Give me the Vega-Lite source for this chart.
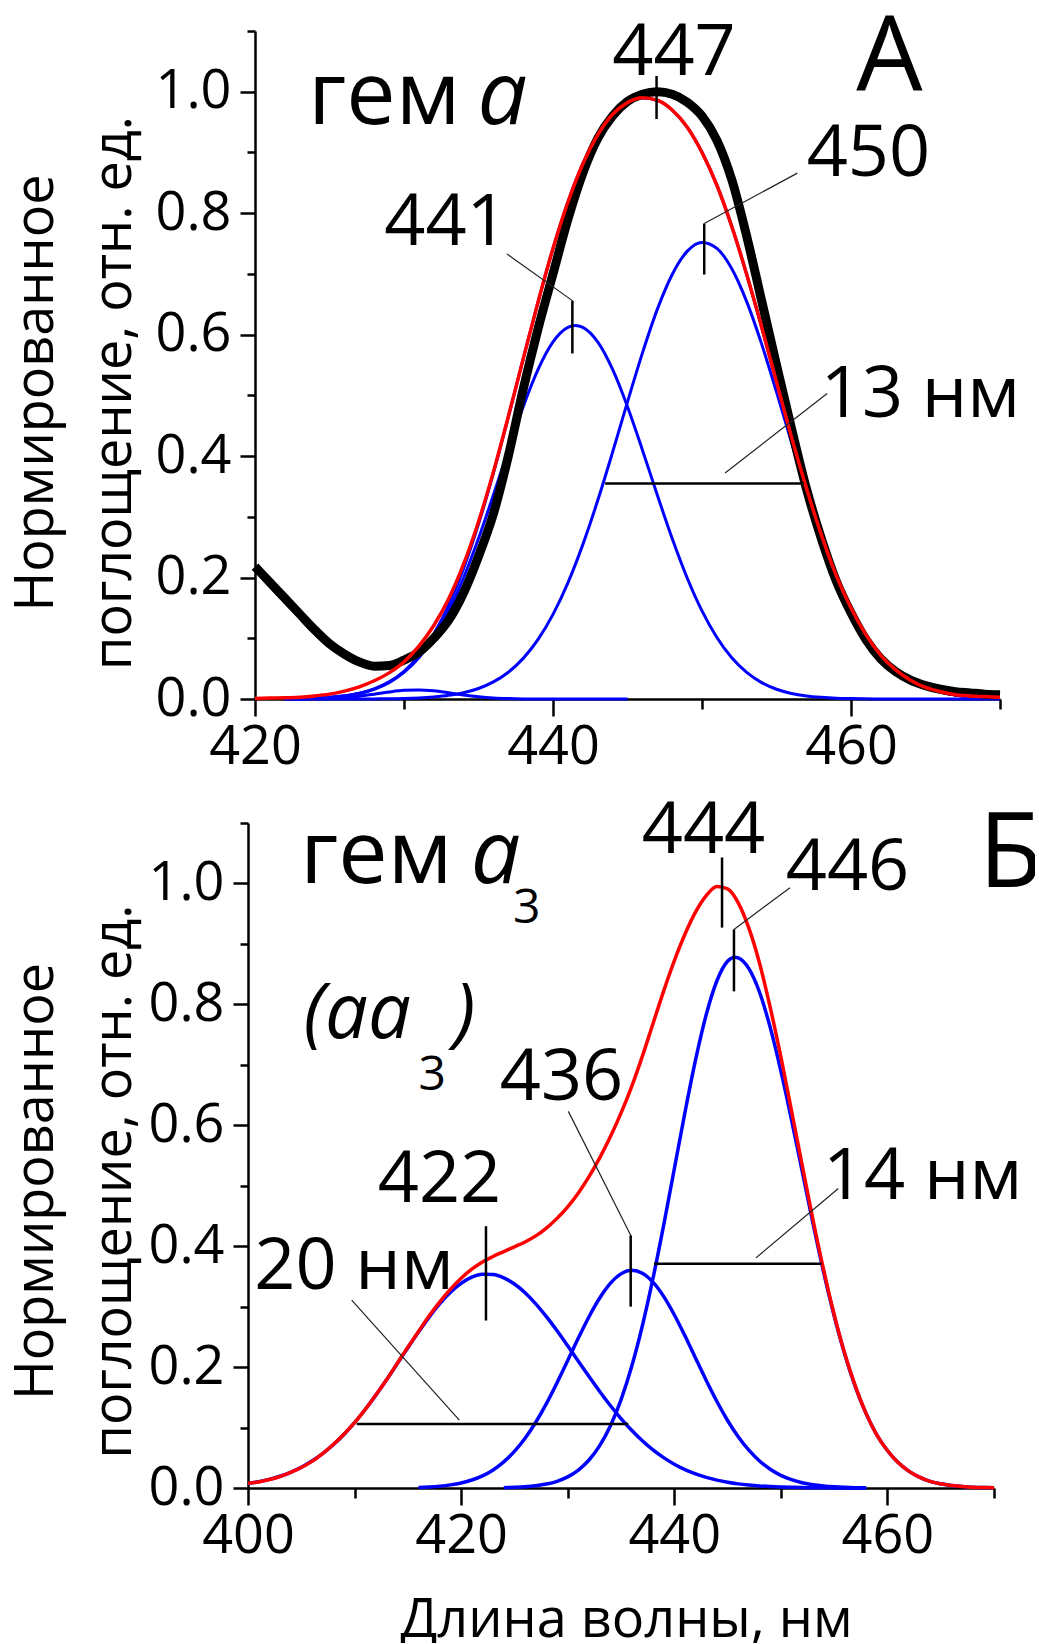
{
  "$schema": "https://vega.github.io/schema/vega-lite/v6.json",
  "padding": {"left": 9, "top": 6, "right": -8, "bottom": -4},
  "spacing": 20,
  "config": {
    "font": "Open Sans",
    "view": {"stroke": null},
    "axis": {
      "grid": false,
      "domainColor": "black",
      "domainWidth": 2.5,
      "tickColor": "black",
      "tickWidth": 2.5,
      "labelFont": "Open Sans",
      "labelFontSize": 54,
      "labelColor": "black",
      "titleFont": "Open Sans",
      "titleFontSize": 54,
      "titleFontWeight": "normal",
      "titleColor": "black"
    }
  },
  "datasets": {
    "A_blue": [
      {"s":"c1","x":422,"y":0.0003},{"s":"c1","x":423,"y":0.0007},{"s":"c1","x":424,"y":0.0013},{"s":"c1","x":425,"y":0.0027},{"s":"c1","x":426,"y":0.005},{"s":"c1","x":427,"y":0.0092},{"s":"c1","x":428,"y":0.0161},{"s":"c1","x":429,"y":0.027},{"s":"c1","x":430,"y":0.0437},{"s":"c1","x":431,"y":0.0678},{"s":"c1","x":432,"y":0.1012},{"s":"c1","x":433,"y":0.145},{"s":"c1","x":434,"y":0.1997},{"s":"c1","x":435,"y":0.2642},{"s":"c1","x":436,"y":0.3359},{"s":"c1","x":437,"y":0.4102},{"s":"c1","x":438,"y":0.4814},{"s":"c1","x":439,"y":0.5427},{"s":"c1","x":440,"y":0.5879},{"s":"c1","x":441,"y":0.6119},{"s":"c1","x":441.5,"y":0.615},{"s":"c1","x":442,"y":0.6119},{"s":"c1","x":443,"y":0.5879},{"s":"c1","x":444,"y":0.5427},{"s":"c1","x":445,"y":0.4814},{"s":"c1","x":446,"y":0.4102},{"s":"c1","x":447,"y":0.3359},{"s":"c1","x":448,"y":0.2642},{"s":"c1","x":449,"y":0.1997},{"s":"c1","x":450,"y":0.145},{"s":"c1","x":451,"y":0.1012},{"s":"c1","x":452,"y":0.0678},{"s":"c1","x":453,"y":0.0437},{"s":"c1","x":454,"y":0.027},{"s":"c1","x":455,"y":0.0161},{"s":"c1","x":456,"y":0.0092},{"s":"c1","x":457,"y":0.005},{"s":"c1","x":458,"y":0.0027},{"s":"c1","x":459,"y":0.0013},{"s":"c1","x":460,"y":0.0007},{"s":"c1","x":461,"y":0.0003},{"s":"c1","x":462,"y":0.0001},{"s":"c1","x":466,"y":0},{"s":"c1","x":470,"y":0},
      {"s":"c2","x":422,"y":0},{"s":"c2","x":426,"y":0},{"s":"c2","x":428,"y":0.0002},{"s":"c2","x":429,"y":0.0005},{"s":"c2","x":430,"y":0.0009},{"s":"c2","x":431,"y":0.0018},{"s":"c2","x":432,"y":0.0034},{"s":"c2","x":433,"y":0.006},{"s":"c2","x":434,"y":0.0104},{"s":"c2","x":435,"y":0.0173},{"s":"c2","x":436,"y":0.0281},{"s":"c2","x":437,"y":0.0441},{"s":"c2","x":438,"y":0.0669},{"s":"c2","x":439,"y":0.0981},{"s":"c2","x":440,"y":0.1393},{"s":"c2","x":441,"y":0.1913},{"s":"c2","x":442,"y":0.2542},{"s":"c2","x":443,"y":0.3268},{"s":"c2","x":444,"y":0.4065},{"s":"c2","x":445,"y":0.4893},{"s":"c2","x":446,"y":0.5696},{"s":"c2","x":447,"y":0.6416},{"s":"c2","x":448,"y":0.6991},{"s":"c2","x":449,"y":0.7371},{"s":"c2","x":450,"y":0.7518},{"s":"c2","x":451,"y":0.742},{"s":"c2","x":452,"y":0.7085},{"s":"c2","x":453,"y":0.6544},{"s":"c2","x":454,"y":0.5848},{"s":"c2","x":455,"y":0.5057},{"s":"c2","x":456,"y":0.423},{"s":"c2","x":457,"y":0.3423},{"s":"c2","x":458,"y":0.268},{"s":"c2","x":459,"y":0.203},{"s":"c2","x":460,"y":0.1488},{"s":"c2","x":461,"y":0.1055},{"s":"c2","x":462,"y":0.0723},{"s":"c2","x":463,"y":0.0481},{"s":"c2","x":464,"y":0.0308},{"s":"c2","x":465,"y":0.0192},{"s":"c2","x":466,"y":0.0115},{"s":"c2","x":467,"y":0.0067},{"s":"c2","x":468,"y":0.0038},{"s":"c2","x":469,"y":0.0021},{"s":"c2","x":470,"y":0.0011},
      {"s":"c3","x":422,"y":0},{"s":"c3","x":423,"y":0.0001},{"s":"c3","x":424,"y":0.0004},{"s":"c3","x":425,"y":0.001},{"s":"c3","x":426,"y":0.0024},{"s":"c3","x":427,"y":0.0047},{"s":"c3","x":428,"y":0.008},{"s":"c3","x":429,"y":0.0116},{"s":"c3","x":430,"y":0.0143},{"s":"c3","x":431,"y":0.015},{"s":"c3","x":432,"y":0.0134},{"s":"c3","x":433,"y":0.0102},{"s":"c3","x":434,"y":0.0066},{"s":"c3","x":435,"y":0.0037},{"s":"c3","x":436,"y":0.0017},{"s":"c3","x":437,"y":0.0007},{"s":"c3","x":438,"y":0.0002},{"s":"c3","x":440,"y":0},{"s":"c3","x":445,"y":0},
      {"s":"env","x":422,"y":0.0003},{"s":"env","x":423,"y":0.0007},{"s":"env","x":424,"y":0.0014},{"s":"env","x":425,"y":0.0027},{"s":"env","x":426,"y":0.0052},{"s":"env","x":427,"y":0.0094},{"s":"env","x":428,"y":0.0167},{"s":"env","x":429,"y":0.0282},{"s":"env","x":430,"y":0.0456},{"s":"env","x":431,"y":0.0713},{"s":"env","x":432,"y":0.107},{"s":"env","x":433,"y":0.1545},{"s":"env","x":434,"y":0.215},{"s":"env","x":435,"y":0.288},{"s":"env","x":436,"y":0.3722},{"s":"env","x":437,"y":0.4643},{"s":"env","x":438,"y":0.56},{"s":"env","x":439,"y":0.6541},{"s":"env","x":440,"y":0.7416},{"s":"env","x":441,"y":0.8182},{"s":"env","x":442,"y":0.8811},{"s":"env","x":443,"y":0.9291},{"s":"env","x":444,"y":0.9625},{"s":"env","x":445,"y":0.9824},{"s":"env","x":446,"y":0.9898},{"s":"env","x":447,"y":0.9857},{"s":"env","x":448,"y":0.9698},{"s":"env","x":449,"y":0.9417},{"s":"env","x":450,"y":0.9003},{"s":"env","x":451,"y":0.8456},{"s":"env","x":452,"y":0.778},{"s":"env","x":453,"y":0.6991},{"s":"env","x":454,"y":0.6125},{"s":"env","x":455,"y":0.5222},{"s":"env","x":456,"y":0.4324},{"s":"env","x":457,"y":0.3475},{"s":"env","x":458,"y":0.2707},{"s":"env","x":459,"y":0.2044},{"s":"env","x":460,"y":0.1495},{"s":"env","x":461,"y":0.1058},{"s":"env","x":462,"y":0.0723},{"s":"env","x":463,"y":0.0481},{"s":"env","x":464,"y":0.0308},{"s":"env","x":465,"y":0.0192},{"s":"env","x":466,"y":0.0115},{"s":"env","x":467,"y":0.0067},{"s":"env","x":468,"y":0.0038},{"s":"env","x":469,"y":0.0021},{"s":"env","x":470,"y":0.0011}
    ],
    "A_black": [
      {"x":420,"y":0.218},{"x":421,"y":0.192},{"x":422,"y":0.166},{"x":423,"y":0.14},{"x":424,"y":0.114},{"x":425,"y":0.091},{"x":426,"y":0.074},{"x":427,"y":0.061},{"x":428,"y":0.054},{"x":429,"y":0.055},{"x":430,"y":0.064},{"x":431,"y":0.077},{"x":432,"y":0.1},{"x":433,"y":0.13},{"x":434,"y":0.175},{"x":435,"y":0.235},{"x":436,"y":0.305},{"x":437,"y":0.4},{"x":438,"y":0.51},{"x":439,"y":0.61},{"x":440,"y":0.7},{"x":441,"y":0.79},{"x":442,"y":0.866},{"x":443,"y":0.923},{"x":444,"y":0.96},{"x":445,"y":0.984},{"x":446,"y":0.996},{"x":447,"y":1.0},{"x":448,"y":0.996},{"x":449,"y":0.983},{"x":450,"y":0.96},{"x":451,"y":0.92},{"x":452,"y":0.855},{"x":453,"y":0.762},{"x":454,"y":0.656},{"x":455,"y":0.55},{"x":456,"y":0.446},{"x":457,"y":0.347},{"x":458,"y":0.265},{"x":459,"y":0.195},{"x":460,"y":0.142},{"x":461,"y":0.098},{"x":462,"y":0.066},{"x":463,"y":0.045},{"x":464,"y":0.031},{"x":465,"y":0.022},{"x":466,"y":0.016},{"x":467,"y":0.012},{"x":468,"y":0.01},{"x":469,"y":0.008},{"x":470,"y":0.007}
    ],
    "A_red": [
      {"x":420,"y":0.001},{"x":421,"y":0.0015},{"x":422,"y":0.002},{"x":423,"y":0.003},{"x":424,"y":0.005},{"x":425,"y":0.008},{"x":426,"y":0.013},{"x":427,"y":0.02},{"x":428,"y":0.03},{"x":429,"y":0.043},{"x":430,"y":0.061},{"x":431,"y":0.087},{"x":432,"y":0.121},{"x":433,"y":0.165},{"x":434,"y":0.222},{"x":435,"y":0.292},{"x":436,"y":0.374},{"x":437,"y":0.465},{"x":438,"y":0.56},{"x":439,"y":0.654},{"x":440,"y":0.742},{"x":441,"y":0.818},{"x":442,"y":0.881},{"x":443,"y":0.929},{"x":444,"y":0.963},{"x":445,"y":0.982},{"x":446,"y":0.99},{"x":447,"y":0.986},{"x":448,"y":0.97},{"x":449,"y":0.942},{"x":450,"y":0.9},{"x":451,"y":0.846},{"x":452,"y":0.778},{"x":453,"y":0.699},{"x":454,"y":0.613},{"x":455,"y":0.522},{"x":456,"y":0.432},{"x":457,"y":0.348},{"x":458,"y":0.271},{"x":459,"y":0.204},{"x":460,"y":0.15},{"x":461,"y":0.106},{"x":462,"y":0.072},{"x":463,"y":0.048},{"x":464,"y":0.031},{"x":465,"y":0.019},{"x":466,"y":0.012},{"x":467,"y":0.007},{"x":468,"y":0.005},{"x":469,"y":0.004},{"x":470,"y":0.003}
    ],
    "A_thick": [
      {"x":446.95,"y":0.955,"x2":446.95,"y2":1.026},
      {"x":441.3,"y":0.569,"x2":441.3,"y2":0.656},
      {"x":450.15,"y":0.699,"x2":450.15,"y2":0.783},
      {"x":443.5,"y":0.355,"x2":456.85,"y2":0.355}
    ],
    "A_thin": [
      {"x":436.9,"y":0.733,"x2":441.3,"y2":0.656},
      {"x":450.15,"y":0.783,"x2":456.4,"y2":0.866},
      {"x":451.55,"y":0.372,"x2":458.4,"y2":0.503}
    ],
    "A_t72": [
      {"x":448.12,"y":1.028,"t":"447"},
      {"x":432.82,"y":0.747,"t":"441"},
      {"x":461.17,"y":0.862,"t":"450"},
      {"x":464.66,"y":0.4643,"t":"13 нм"}
    ],
    "A_big": [{"x":462.58,"y":1.0016,"t":"А"}],
    "A_gem": [{"x":423.58,"y":0.9469,"t":"гем"}],
    "A_it": [{"x":434.94,"y":0.9469,"t":"a"}],
    "B_blue": [
      {"s":"b1","x":400,"y":0.0074},{"s":"b1","x":401,"y":0.0103},{"s":"b1","x":402,"y":0.0143},{"s":"b1","x":403,"y":0.0194},{"s":"b1","x":404,"y":0.026},{"s":"b1","x":405,"y":0.0342},{"s":"b1","x":406,"y":0.0445},{"s":"b1","x":407,"y":0.0568},{"s":"b1","x":408,"y":0.0715},{"s":"b1","x":409,"y":0.0886},{"s":"b1","x":410,"y":0.1081},{"s":"b1","x":411,"y":0.1298},{"s":"b1","x":412,"y":0.1536},{"s":"b1","x":413,"y":0.179},{"s":"b1","x":414,"y":0.2054},{"s":"b1","x":415,"y":0.232},{"s":"b1","x":416,"y":0.2581},{"s":"b1","x":417,"y":0.2827},{"s":"b1","x":418,"y":0.3049},{"s":"b1","x":419,"y":0.3238},{"s":"b1","x":420,"y":0.3386},{"s":"b1","x":421,"y":0.3487},{"s":"b1","x":422,"y":0.3536},{"s":"b1","x":423,"y":0.3531},{"s":"b1","x":424,"y":0.3476},{"s":"b1","x":425,"y":0.3374},{"s":"b1","x":426,"y":0.323},{"s":"b1","x":427,"y":0.3047},{"s":"b1","x":428,"y":0.2834},{"s":"b1","x":429,"y":0.26},{"s":"b1","x":430,"y":0.2351},{"s":"b1","x":431,"y":0.2096},{"s":"b1","x":432,"y":0.1843},{"s":"b1","x":433,"y":0.1597},{"s":"b1","x":434,"y":0.1364},{"s":"b1","x":435,"y":0.1149},{"s":"b1","x":436,"y":0.0954},{"s":"b1","x":437,"y":0.0782},{"s":"b1","x":438,"y":0.0631},{"s":"b1","x":439,"y":0.0502},{"s":"b1","x":440,"y":0.0394},{"s":"b1","x":441,"y":0.0305},{"s":"b1","x":442,"y":0.0233},{"s":"b1","x":443,"y":0.0175},{"s":"b1","x":444,"y":0.013},{"s":"b1","x":445,"y":0.0095},{"s":"b1","x":446,"y":0.0068},{"s":"b1","x":447,"y":0.0049},{"s":"b1","x":448,"y":0.0034},{"s":"b1","x":449,"y":0.0023},{"s":"b1","x":450,"y":0.0016},{"s":"b1","x":451,"y":0.0011},{"s":"b1","x":452,"y":0.0007},{"s":"b1","x":453,"y":0.0005},{"s":"b1","x":454,"y":0.0003},{"s":"b1","x":455,"y":0.0002},{"s":"b1","x":456,"y":0.0001},{"s":"b1","x":458,"y":0},
      {"s":"b2","x":416,"y":0.001},{"s":"b2","x":417,"y":0.0018},{"s":"b2","x":418,"y":0.0031},{"s":"b2","x":419,"y":0.0052},{"s":"b2","x":420,"y":0.0084},{"s":"b2","x":421,"y":0.0132},{"s":"b2","x":422,"y":0.0201},{"s":"b2","x":423,"y":0.0299},{"s":"b2","x":424,"y":0.0432},{"s":"b2","x":425,"y":0.0605},{"s":"b2","x":426,"y":0.0823},{"s":"b2","x":427,"y":0.1088},{"s":"b2","x":428,"y":0.1397},{"s":"b2","x":429,"y":0.1742},{"s":"b2","x":430,"y":0.2109},{"s":"b2","x":431,"y":0.248},{"s":"b2","x":432,"y":0.2833},{"s":"b2","x":433,"y":0.3142},{"s":"b2","x":434,"y":0.3385},{"s":"b2","x":435,"y":0.3542},{"s":"b2","x":436,"y":0.36},{"s":"b2","x":437,"y":0.3553},{"s":"b2","x":438,"y":0.3405},{"s":"b2","x":439,"y":0.317},{"s":"b2","x":440,"y":0.2866},{"s":"b2","x":441,"y":0.2517},{"s":"b2","x":442,"y":0.2146},{"s":"b2","x":443,"y":0.1778},{"s":"b2","x":444,"y":0.143},{"s":"b2","x":445,"y":0.1117},{"s":"b2","x":446,"y":0.0847},{"s":"b2","x":447,"y":0.0625},{"s":"b2","x":448,"y":0.0447},{"s":"b2","x":449,"y":0.0311},{"s":"b2","x":450,"y":0.021},{"s":"b2","x":451,"y":0.0138},{"s":"b2","x":452,"y":0.0088},{"s":"b2","x":453,"y":0.0054},{"s":"b2","x":454,"y":0.0033},{"s":"b2","x":455,"y":0.0019},{"s":"b2","x":456,"y":0.0011},{"s":"b2","x":457,"y":0.0006},{"s":"b2","x":458,"y":0.0003},
      {"s":"b3","x":424,"y":0.0005},{"s":"b3","x":425,"y":0.0011},{"s":"b3","x":426,"y":0.002},{"s":"b3","x":427,"y":0.0037},{"s":"b3","x":428,"y":0.0065},{"s":"b3","x":429,"y":0.0111},{"s":"b3","x":430,"y":0.0184},{"s":"b3","x":431,"y":0.0297},{"s":"b3","x":432,"y":0.0463},{"s":"b3","x":433,"y":0.0701},{"s":"b3","x":434,"y":0.1027},{"s":"b3","x":435,"y":0.1459},{"s":"b3","x":436,"y":0.2009},{"s":"b3","x":437,"y":0.268},{"s":"b3","x":438,"y":0.3466},{"s":"b3","x":439,"y":0.4344},{"s":"b3","x":440,"y":0.5277},{"s":"b3","x":441,"y":0.6211},{"s":"b3","x":442,"y":0.7085},{"s":"b3","x":443,"y":0.7832},{"s":"b3","x":444,"y":0.8391},{"s":"b3","x":445,"y":0.8713},{"s":"b3","x":445.7,"y":0.878},{"s":"b3","x":446,"y":0.8769},{"s":"b3","x":447,"y":0.859},{"s":"b3","x":448,"y":0.82},{"s":"b3","x":449,"y":0.762},{"s":"b3","x":450,"y":0.69},{"s":"b3","x":451,"y":0.609},{"s":"b3","x":452,"y":0.524},{"s":"b3","x":453,"y":0.439},{"s":"b3","x":454,"y":0.358},{"s":"b3","x":455,"y":0.285},{"s":"b3","x":456,"y":0.221},{"s":"b3","x":457,"y":0.167},{"s":"b3","x":458,"y":0.123},{"s":"b3","x":459,"y":0.088},{"s":"b3","x":460,"y":0.062},{"s":"b3","x":461,"y":0.042},{"s":"b3","x":462,"y":0.028},{"s":"b3","x":463,"y":0.018},{"s":"b3","x":464,"y":0.011},{"s":"b3","x":465,"y":0.007},{"s":"b3","x":466,"y":0.004},{"s":"b3","x":467,"y":0.0025},{"s":"b3","x":468,"y":0.0014},{"s":"b3","x":469,"y":0.0008},{"s":"b3","x":470,"y":0.0004}
    ],
    "B_red": [
      {"x":400,"y":0.008},{"x":401,"y":0.01},{"x":402,"y":0.014},{"x":403,"y":0.019},{"x":404,"y":0.026},{"x":405,"y":0.034},{"x":406,"y":0.044},{"x":407,"y":0.057},{"x":408,"y":0.072},{"x":409,"y":0.089},{"x":410,"y":0.108},{"x":411,"y":0.13},{"x":412,"y":0.154},{"x":413,"y":0.179},{"x":414,"y":0.206},{"x":415,"y":0.233},{"x":416,"y":0.259},{"x":417,"y":0.285},{"x":418,"y":0.308},{"x":419,"y":0.329},{"x":420,"y":0.347},{"x":421,"y":0.362},{"x":422,"y":0.374},{"x":423,"y":0.383},{"x":424,"y":0.391},{"x":425,"y":0.399},{"x":426,"y":0.407},{"x":427,"y":0.417},{"x":428,"y":0.43},{"x":429,"y":0.446},{"x":430,"y":0.465},{"x":431,"y":0.488},{"x":432,"y":0.515},{"x":433,"y":0.546},{"x":434,"y":0.581},{"x":435,"y":0.62},{"x":436,"y":0.664},{"x":437,"y":0.714},{"x":438,"y":0.768},{"x":439,"y":0.822},{"x":440,"y":0.872},{"x":441,"y":0.916},{"x":442,"y":0.953},{"x":443,"y":0.98},{"x":444,"y":0.995},{"x":445,"y":0.991},{"x":446,"y":0.968},{"x":447,"y":0.926},{"x":448,"y":0.868},{"x":449,"y":0.795},{"x":450,"y":0.713},{"x":451,"y":0.624},{"x":452,"y":0.534},{"x":453,"y":0.445},{"x":454,"y":0.362},{"x":455,"y":0.287},{"x":456,"y":0.222},{"x":457,"y":0.168},{"x":458,"y":0.123},{"x":459,"y":0.088},{"x":460,"y":0.062},{"x":461,"y":0.042},{"x":462,"y":0.028},{"x":463,"y":0.018},{"x":464,"y":0.011},{"x":465,"y":0.007},{"x":466,"y":0.004},{"x":467,"y":0.0025},{"x":468,"y":0.0014},{"x":469,"y":0.0008},{"x":470,"y":0.0004}
    ],
    "B_thick": [
      {"x":444.48,"y":0.927,"x2":444.48,"y2":1.043},
      {"x":445.6,"y":0.8215,"x2":445.6,"y2":0.924},
      {"x":435.91,"y":0.3,"x2":435.91,"y2":0.418},
      {"x":422.33,"y":0.277,"x2":422.33,"y2":0.433},
      {"x":410.2,"y":0.1058,"x2":435.69,"y2":0.1058},
      {"x":438.1,"y":0.371,"x2":453.83,"y2":0.371}
    ],
    "B_thin": [
      {"x":445.6,"y":0.924,"x2":450.86,"y2":0.993},
      {"x":435.91,"y":0.418,"x2":430.06,"y2":0.623},
      {"x":409.73,"y":0.3107,"x2":419.83,"y2":0.1124},
      {"x":447.67,"y":0.3807,"x2":455.39,"y2":0.4953}
    ],
    "B_t72": [
      {"x":442.74,"y":1.0512,"t":"444"},
      {"x":456.25,"y":0.9884,"t":"446"},
      {"x":429.42,"y":0.6413,"t":"436"},
      {"x":417.97,"y":0.4732,"t":"422"},
      {"x":409.95,"y":0.33,"t":"20 нм"},
      {"x":463.3,"y":0.4788,"t":"14 нм"}
    ],
    "B_big": [{"x":468.55,"y":0.9934,"t":"Б"}],
    "B_gem": [{"x":404.91,"y":1.0,"t":"гем"}],
    "B_it88": [{"x":420.89,"y":1.0,"t":"a"}],
    "B_sub": [{"x":424.87,"y":0.934,"t":"3"},{"x":416.0,"y":0.6579,"t":"3"}],
    "B_it68": [{"x":405.2,"y":0.7438,"t":"(aa"},{"x":419.3,"y":0.7438,"t":")"}]
  },
  "vconcat": [
    {
      "width": 752,
      "height": 668,
      "resolve": {"axis": {"x": "independent", "y": "independent"}},
      "layer": [
        {
          "data": {"name": "A_blue"},
          "mark": {"type": "line", "color": "#0000ff", "strokeWidth": 3, "interpolate": "monotone"},
          "encoding": {
            "x": {"field": "x", "type": "quantitative", "scale": {"domain": [420, 470], "range": [7, 752], "nice": false, "zero": false},
                  "axis": {"orient": "bottom", "values": [420, 440, 460], "format": "d", "tickSize": 17, "labelPadding": 4, "title": null, "labelFlush": false, "labelOverlap": false}},
            "y": {"field": "y", "type": "quantitative", "scale": {"domain": [0, 1.1], "nice": false},
                  "axis": {"orient": "left", "offset": -7, "values": [0, 0.2, 0.4, 0.6, 0.8, 1.0], "format": ".1f", "tickSize": 15, "labelPadding": 9, "labelOverlap": false,
                           "title": ["Нормированное", "поглощение, отн. ед."], "titleAngle": 270, "titleAlign": "center", "titleBaseline": "alphabetic",
                           "titleX": -203, "titleY": 361.5, "titleLineHeight": 78}},
            "detail": {"field": "s"}
          }
        },
        {
          "data": {"name": "A_black"},
          "mark": {"type": "line", "color": "black", "strokeWidth": 9, "interpolate": "monotone"},
          "encoding": {
            "x": {"field": "x", "type": "quantitative", "axis": {"orient": "bottom", "values": [430, 450, 470], "labels": false, "domain": false, "tickSize": 10, "title": null}},
            "y": {"field": "y", "type": "quantitative", "axis": {"orient": "left", "offset": -7, "values": [0.1, 0.3, 0.5, 0.7, 0.9, 1.1], "labels": false, "domain": false, "tickSize": 8, "title": null}}
          }
        },
        {
          "data": {"name": "A_red"},
          "mark": {"type": "line", "color": "#ff0000", "strokeWidth": 3.5, "interpolate": "monotone"},
          "encoding": {
            "x": {"field": "x", "type": "quantitative", "axis": null},
            "y": {"field": "y", "type": "quantitative", "axis": null}
          }
        },
        {
          "data": {"name": "A_thick"},
          "mark": {"type": "rule", "color": "black", "strokeWidth": 2.5},
          "encoding": {
            "x": {"field": "x", "type": "quantitative", "axis": null},
            "y": {"field": "y", "type": "quantitative", "axis": null},
            "x2": {"field": "x2"},
            "y2": {"field": "y2"}
          }
        },
        {
          "data": {"name": "A_thin"},
          "mark": {"type": "rule", "color": "#222222", "strokeWidth": 1.2},
          "encoding": {
            "x": {"field": "x", "type": "quantitative", "axis": null},
            "y": {"field": "y", "type": "quantitative", "axis": null},
            "x2": {"field": "x2"},
            "y2": {"field": "y2"}
          }
        },
        {
          "data": {"name": "A_t72"},
          "mark": {"type": "text", "align": "center", "baseline": "alphabetic", "fontSize": 72, "font": "Open Sans", "color": "black"},
          "encoding": {
            "x": {"field": "x", "type": "quantitative", "axis": null},
            "y": {"field": "y", "type": "quantitative", "axis": null},
            "text": {"field": "t"}
          }
        },
        {
          "data": {"name": "A_big"},
          "mark": {"type": "text", "align": "center", "baseline": "alphabetic", "fontSize": 105, "font": "Open Sans", "color": "black"},
          "encoding": {
            "x": {"field": "x", "type": "quantitative", "axis": null},
            "y": {"field": "y", "type": "quantitative", "axis": null},
            "text": {"field": "t"}
          }
        },
        {
          "data": {"name": "A_gem"},
          "mark": {"type": "text", "align": "left", "baseline": "alphabetic", "fontSize": 88, "font": "Open Sans", "color": "black"},
          "encoding": {
            "x": {"field": "x", "type": "quantitative", "axis": null},
            "y": {"field": "y", "type": "quantitative", "axis": null},
            "text": {"field": "t"}
          }
        },
        {
          "data": {"name": "A_it"},
          "mark": {"type": "text", "align": "left", "baseline": "alphabetic", "fontSize": 88, "fontStyle": "italic", "font": "Open Sans", "color": "black"},
          "encoding": {
            "x": {"field": "x", "type": "quantitative", "axis": null},
            "y": {"field": "y", "type": "quantitative", "axis": null},
            "text": {"field": "t"}
          }
        }
      ]
    },
    {
      "width": 746,
      "height": 665,
      "resolve": {"axis": {"x": "independent", "y": "independent"}},
      "layer": [
        {
          "data": {"name": "B_blue"},
          "mark": {"type": "line", "color": "#0000ff", "strokeWidth": 3.5, "interpolate": "monotone"},
          "encoding": {
            "x": {"field": "x", "type": "quantitative", "scale": {"domain": [400, 470], "nice": false, "zero": false},
                  "axis": {"orient": "bottom", "values": [400, 420, 440, 460], "format": "d", "tickSize": 17, "labelPadding": 4, "labelFlush": false, "labelOverlap": false,
                           "title": "Длина волны, нм", "titleBaseline": "alphabetic", "titleAlign": "center", "titleX": 378, "titleY": 148}},
            "y": {"field": "y", "type": "quantitative", "scale": {"domain": [0, 1.1], "nice": false},
                  "axis": {"orient": "left", "values": [0, 0.2, 0.4, 0.6, 0.8, 1.0], "format": ".1f", "tickSize": 15, "labelPadding": 9, "labelOverlap": false,
                           "title": ["Нормированное", "поглощение, отн. ед."], "titleAngle": 270, "titleAlign": "center", "titleBaseline": "alphabetic",
                           "titleX": -196, "titleY": 358, "titleLineHeight": 78}},
            "detail": {"field": "s"}
          }
        },
        {
          "data": {"name": "B_red"},
          "mark": {"type": "line", "color": "#ff0000", "strokeWidth": 3.5, "interpolate": "monotone"},
          "encoding": {
            "x": {"field": "x", "type": "quantitative", "axis": {"orient": "bottom", "values": [410, 430, 450, 470], "labels": false, "domain": false, "tickSize": 10, "title": null}},
            "y": {"field": "y", "type": "quantitative", "axis": {"orient": "left", "values": [0.1, 0.3, 0.5, 0.7, 0.9, 1.1], "labels": false, "domain": false, "tickSize": 8, "title": null}}
          }
        },
        {
          "data": {"name": "B_thick"},
          "mark": {"type": "rule", "color": "black", "strokeWidth": 2.5},
          "encoding": {
            "x": {"field": "x", "type": "quantitative", "axis": null},
            "y": {"field": "y", "type": "quantitative", "axis": null},
            "x2": {"field": "x2"},
            "y2": {"field": "y2"}
          }
        },
        {
          "data": {"name": "B_thin"},
          "mark": {"type": "rule", "color": "#222222", "strokeWidth": 1.2},
          "encoding": {
            "x": {"field": "x", "type": "quantitative", "axis": null},
            "y": {"field": "y", "type": "quantitative", "axis": null},
            "x2": {"field": "x2"},
            "y2": {"field": "y2"}
          }
        },
        {
          "data": {"name": "B_t72"},
          "mark": {"type": "text", "align": "center", "baseline": "alphabetic", "fontSize": 72, "font": "Open Sans", "color": "black"},
          "encoding": {
            "x": {"field": "x", "type": "quantitative", "axis": null},
            "y": {"field": "y", "type": "quantitative", "axis": null},
            "text": {"field": "t"}
          }
        },
        {
          "data": {"name": "B_big"},
          "mark": {"type": "text", "align": "left", "baseline": "alphabetic", "fontSize": 105, "font": "Open Sans", "color": "black"},
          "encoding": {
            "x": {"field": "x", "type": "quantitative", "axis": null},
            "y": {"field": "y", "type": "quantitative", "axis": null},
            "text": {"field": "t"}
          }
        },
        {
          "data": {"name": "B_gem"},
          "mark": {"type": "text", "align": "left", "baseline": "alphabetic", "fontSize": 88, "font": "Open Sans", "color": "black"},
          "encoding": {
            "x": {"field": "x", "type": "quantitative", "axis": null},
            "y": {"field": "y", "type": "quantitative", "axis": null},
            "text": {"field": "t"}
          }
        },
        {
          "data": {"name": "B_it88"},
          "mark": {"type": "text", "align": "left", "baseline": "alphabetic", "fontSize": 88, "fontStyle": "italic", "font": "Open Sans", "color": "black"},
          "encoding": {
            "x": {"field": "x", "type": "quantitative", "axis": null},
            "y": {"field": "y", "type": "quantitative", "axis": null},
            "text": {"field": "t"}
          }
        },
        {
          "data": {"name": "B_sub"},
          "mark": {"type": "text", "align": "left", "baseline": "alphabetic", "fontSize": 48, "font": "Open Sans", "color": "black"},
          "encoding": {
            "x": {"field": "x", "type": "quantitative", "axis": null},
            "y": {"field": "y", "type": "quantitative", "axis": null},
            "text": {"field": "t"}
          }
        },
        {
          "data": {"name": "B_it68"},
          "mark": {"type": "text", "align": "left", "baseline": "alphabetic", "fontSize": 76, "fontStyle": "italic", "font": "Open Sans", "color": "black"},
          "encoding": {
            "x": {"field": "x", "type": "quantitative", "axis": null},
            "y": {"field": "y", "type": "quantitative", "axis": null},
            "text": {"field": "t"}
          }
        }
      ]
    }
  ]
}
